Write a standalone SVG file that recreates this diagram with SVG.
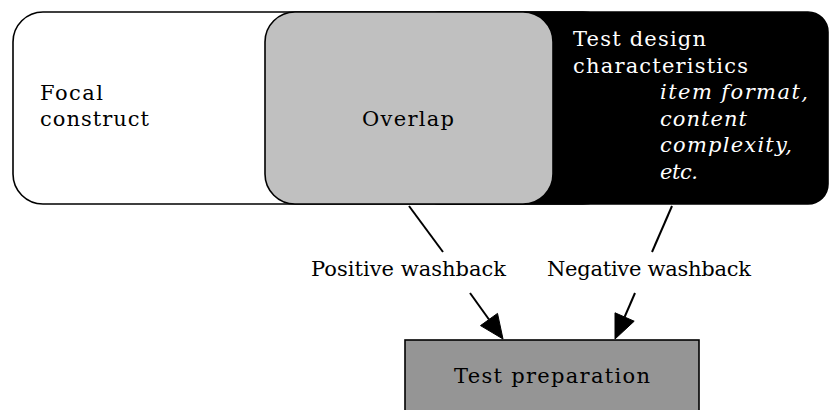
<svg xmlns="http://www.w3.org/2000/svg" width="830" height="410" viewBox="0 0 830 410">
  <style>
    .box { stroke: #000; stroke-width: 1.6; }
    .t { font-family: "DejaVu Serif", "Liberation Serif", serif; font-size: 21px; fill: #000; }
    .w { fill: #fff; }
    .i { font-style: italic; }
    .edge { stroke: #000; stroke-width: 2; fill: none; }
    .head { fill: #000; stroke: #000; stroke-width: 1; }
  </style>

  <!-- Focal construct: white region on the left -->
  <g id="focal">
    <rect class="box" x="13" y="12" width="600" height="192" rx="30" ry="30" fill="#fff"/>
    <text class="t" x="40" y="100" textLength="63" lengthAdjust="spacing">Focal</text>
    <text class="t" x="40" y="126" textLength="109" lengthAdjust="spacing">construct</text>
  </g>

  <!-- Test design characteristics: black region on the right -->
  <g id="design">
    <rect class="box" x="420" y="12" width="408" height="192" rx="20" ry="20" fill="#000"/>
    <text class="t w" x="573" y="46" textLength="133" lengthAdjust="spacing">Test design</text>
    <text class="t w" x="573" y="73" textLength="175" lengthAdjust="spacing">characteristics</text>
    <text class="t w i" x="660" y="99" textLength="148" lengthAdjust="spacing">item format,</text>
    <text class="t w i" x="660" y="126" textLength="87" lengthAdjust="spacing">content</text>
    <text class="t w i" x="660" y="152" textLength="132" lengthAdjust="spacing">complexity,</text>
    <text class="t w i" x="660" y="179" textLength="38" lengthAdjust="spacing">etc.</text>
  </g>

  <!-- Overlap: grey region in the middle -->
  <g id="overlap">
    <rect class="box" x="265" y="12" width="288" height="192" rx="30" ry="30" fill="#c0c0c0"/>
    <text class="t" x="362" y="126" textLength="92" lengthAdjust="spacing">Overlap</text>
  </g>

  <!-- Test preparation -->
  <g id="prep">
    <rect class="box" x="405" y="340" width="294" height="80" fill="#959595"/>
    <text class="t" x="454" y="383" textLength="196" lengthAdjust="spacing">Test preparation</text>
  </g>

  <!-- Washback connectors -->
  <g id="connectors">
    <line class="edge" x1="409" y1="206" x2="443" y2="252"/>
    <line class="edge" x1="470" y1="293" x2="489" y2="319.5"/>
    <polygon class="head" points="503,339 497.5,313.4 480.5,325.6"/>
    <text class="t" x="311" y="276" textLength="195" lengthAdjust="spacing">Positive washback</text>

    <line class="edge" x1="672" y1="206" x2="652" y2="252"/>
    <line class="edge" x1="635" y1="293" x2="624.6" y2="317"/>
    <polygon class="head" points="615,339 634.2,321.2 615,312.8"/>
    <text class="t" x="547" y="276" textLength="204" lengthAdjust="spacing">Negative washback</text>
  </g>
</svg>
